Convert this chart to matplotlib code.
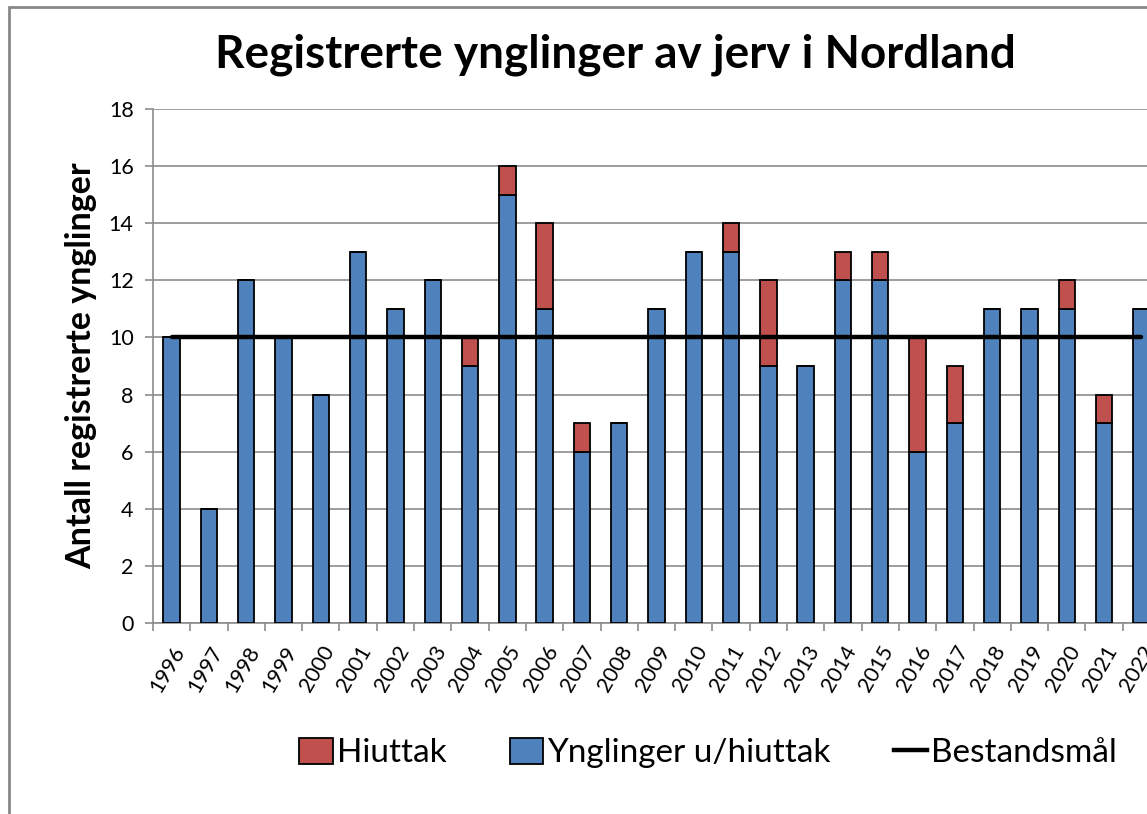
import matplotlib
matplotlib.use("Agg")
import matplotlib.pyplot as plt
from matplotlib.patches import Rectangle, Patch
from matplotlib.lines import Line2D
import numpy as np

years = [str(y) for y in range(1996, 2023)]
ynglinger = [10, 4, 12, 10, 8, 13, 11, 12, 9, 15, 11, 6, 7, 11, 13, 13, 9, 9, 12, 12, 6, 7, 11, 11, 11, 7, 11]
hiuttak = [0, 0, 0, 0, 0, 0, 0, 0, 1, 1, 3, 1, 0, 0, 0, 1, 3, 0, 1, 1, 4, 2, 0, 0, 1, 1, 0]
bestandsmal = 10
yticks = list(range(0, 19, 2))

FONT = "Lato"
W, H = 1147, 814
fig = plt.figure(figsize=(W / 100, H / 100), dpi=100)
ax = fig.add_axes([153 / W, (H - 623) / H, (1160 - 153) / W, (623 - 109) / H])

x = np.arange(len(years))
blue = "#4F81BD"
red = "#C0504D"
ax.bar(x, ynglinger, width=0.44, color=blue, edgecolor="black", linewidth=1.3, zorder=3)
ax.bar(x, hiuttak, width=0.44, bottom=ynglinger, color=red, edgecolor="black", linewidth=1.3, zorder=3)
ax.plot([x[0], x[-1]], [bestandsmal, bestandsmal], color="black", lw=3.2, zorder=4, solid_capstyle="round")

ax.set_xlim(-0.5, len(years) - 0.5)
ax.set_ylim(0, 18)
ax.set_yticks(yticks)
ax.set_yticklabels([str(t) for t in yticks], fontsize=15.5, family=FONT)
ax.yaxis.grid(True, color="#8C8C8C", lw=1.2, zorder=0)
ax.set_xticks(x)
ax.set_xticklabels(years, rotation=60, ha="right", rotation_mode="anchor", fontsize=15.5, family=FONT)
ax.set_xticks(np.arange(-0.5, len(years), 1), minor=True)
ax.tick_params(axis="x", which="major", length=0, pad=14)
ax.tick_params(axis="x", which="minor", length=6, color="#8C8C8C", width=1.2)
ax.tick_params(axis="y", length=6, color="#8C8C8C", width=1.2, pad=8)
for s in ["top", "right"]:
    ax.spines[s].set_visible(False)
for s in ["left", "bottom"]:
    ax.spines[s].set_color("#8C8C8C")
    ax.spines[s].set_linewidth(1.2)

ax.set_ylabel("Antall registrerte ynglinger", fontsize=24.5, fontweight="bold", family=FONT, labelpad=8)
fig.text(615 / W, 1 - 55 / H, "Registrerte ynglinger av jerv i Nordland", ha="center", va="center",
         fontsize=33, fontweight="bold", family=FONT)

handles = [Patch(facecolor=red, edgecolor="black", lw=1.3, label="Hiuttak"),
           Patch(facecolor=blue, edgecolor="black", lw=1.3, label="Ynglinger u/hiuttak"),
           Line2D([0], [0], color="black", lw=3.2, label="Bestandsmål")]
fig.legend(handles=handles, loc="center", bbox_to_anchor=(708 / W, 1 - 753 / H), ncol=3, frameon=False,
           prop={"family": FONT, "size": 24}, handlelength=1.0, handleheight=0.85, handletextpad=0.12,
           columnspacing=1.9)

fig.patches.append(Rectangle((8.5 / W, -0.1), 1.2, 1.1 - 7.5 / H, transform=fig.transFigure,
                             fill=False, edgecolor="#888888", lw=2))
fig.savefig("out.png", dpi=100)
